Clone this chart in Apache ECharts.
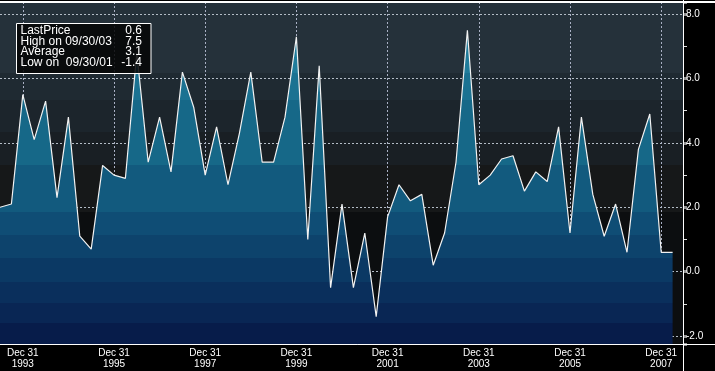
<!DOCTYPE html>
<html>
<head>
<meta charset="utf-8">
<script src="https://cdn.jsdelivr.net/npm/echarts@6/dist/echarts.min.js"></script>
<style>
html,body{margin:0;padding:0;background:#000;}
#chart{width:715px;height:371px;}
</style>
</head>
<body>
<div id="chart"></div>
<script>
// Quarter-end dates (last entry is an empty slot at the right edge of the plot)
const categories = [
  "1993-06-30","1993-09-30","1993-12-31",
  "1994-03-31","1994-06-30","1994-09-30","1994-12-31",
  "1995-03-31","1995-06-30","1995-09-30","1995-12-31",
  "1996-03-31","1996-06-30","1996-09-30","1996-12-31",
  "1997-03-31","1997-06-30","1997-09-30","1997-12-31",
  "1998-03-31","1998-06-30","1998-09-30","1998-12-31",
  "1999-03-31","1999-06-30","1999-09-30","1999-12-31",
  "2000-03-31","2000-06-30","2000-09-30","2000-12-31",
  "2001-03-31","2001-06-30","2001-09-30","2001-12-31",
  "2002-03-31","2002-06-30","2002-09-30","2002-12-31",
  "2003-03-31","2003-06-30","2003-09-30","2003-12-31",
  "2004-03-31","2004-06-30","2004-09-30","2004-12-31",
  "2005-03-31","2005-06-30","2005-09-30","2005-12-31",
  "2006-03-31","2006-06-30","2006-09-30","2006-12-31",
  "2007-03-31","2007-06-30","2007-09-30","2007-12-31",
  "2008-03-31","2008-06-30"
];
const values = [
  2.0, 2.1, 5.5,
  4.1, 5.3, 2.3, 4.8,
  1.1, 0.7, 3.3, 3.0,
  2.9, 6.8, 3.4, 4.8,
  3.1, 6.2, 5.1, 3.0,
  4.5, 2.7, 4.3, 6.2,
  3.4, 3.4, 4.8, 7.3,
  1.0, 6.4, -0.5, 2.1,
  -0.5, 1.2, -1.4, 1.7,
  2.7, 2.2, 2.4, 0.2,
  1.2, 3.4, 7.5, 2.7,
  3.0, 3.5, 3.6, 2.5,
  3.1, 2.8, 4.5, 1.2,
  4.8, 2.4, 1.1, 2.1,
  0.6, 3.8, 4.9, 0.6,
  0.6
];
const yMin = -2.25;
const yMax = 8.38;
const statLabels = ["LastPrice", "High on 09/30/03", "Average", "Low on  09/30/01"];
const statValues = ["0.6", "7.5", "3.1", "-1.4"];

const isDec = v => v.slice(5) === "12-31";
const isLabeled = v => isDec(v) && (+v.slice(0, 4)) % 2 === 1;

const bandBg = (stops) => {
  const out = [];
  for (let i = 0; i < stops.length; i++) {
    const [a, b, c] = stops[i];
    out.push({offset: a, color: c}, {offset: b, color: c});
  }
  return out;
};

const chart = echarts.init(document.getElementById('chart'), null, {renderer: 'canvas'});

const font = "'Liberation Sans', Arial, sans-serif";

const statGraphics = [];
statGraphics.push({
  type: 'rect', shape: {x: 16.5, y: 23.5, width: 134.5, height: 50},
  style: {fill: 'rgba(5,5,5,0.86)', stroke: '#ffffff', lineWidth: 1}, z: 100
});
const rowY = [30.5, 41.3, 51.8, 62.5];
statLabels.forEach((t, i) => {
  statGraphics.push({type: 'text', x: 20.5, y: rowY[i], z: 101,
    style: {text: t, fill: '#ffffff', font: "12px " + font, textVerticalAlign: 'middle'}});
  statGraphics.push({type: 'text', x: 142, y: rowY[i], z: 101,
    style: {text: statValues[i], fill: '#ffffff', font: "12px " + font, textAlign: 'right', textVerticalAlign: 'middle'}});
});

const option = {
  backgroundColor: '#000000',
  animation: false,
  grid: {
    left: 0, right: 31, top: 2, bottom: 27,
    show: true, borderWidth: 0,
    backgroundColor: {
      type: 'linear', x: 0, y: 0, x2: 0, y2: 1,
      colorStops: bandBg([
        [0, 0.2076, '#25313a'],
        [0.2076, 0.2865, '#1f2a32'],
        [0.2865, 0.38, '#1c252c'],
        [0.38, 0.4766, '#191f24'],
        [0.4766, 0.614, '#161819'],
        [0.614, 1, '#0c0e10']
      ])
    }
  },
  xAxis: {
    type: 'category',
    data: categories,
    boundaryGap: false,
    axisLine: {show: false},
    axisTick: {show: true, length: 4, interval: (i, v) => isDec(v), lineStyle: {color: '#ffffff', width: 1}},
    axisLabel: {
      interval: (i, v) => isLabeled(v),
      formatter: v => 'Dec 31\n' + v.slice(0, 4),
      color: '#ffffff', fontSize: 10, lineHeight: 11, margin: 4,
      fontFamily: font
    },
    splitLine: {show: true, interval: (i, v) => isLabeled(v),
      lineStyle: {color: '#a9b0c4', type: [2, 2], width: 1}}
  },
  yAxis: {
    type: 'value',
    position: 'right',
    min: yMin, max: yMax, splitNumber: 5,
    axisLine: {show: false},
    axisTick: {show: true, length: 3, lineStyle: {color: '#8f8f8f', width: 3}},
    minorTick: {show: true, splitNumber: 2, length: 3, lineStyle: {color: '#dddddd', width: 1}},
    axisLabel: {
      color: '#ffffff', fontSize: 10, margin: 2,
      fontFamily: "'Liberation Sans Narrow', 'Liberation Sans', Arial, sans-serif",
      showMinLabel: false, showMaxLabel: false,
      formatter: v => v.toFixed(1)
    },
    splitLine: {show: true, lineStyle: {color: '#b3bcc6', type: [2, 2], width: 1}}
  },
  series: [{
    type: 'line',
    data: values,
    symbol: 'none',
    lineStyle: {color: '#f2f2f2', width: 1.2},
    areaStyle: {
      origin: 'start',
      opacity: 1,
      color: {
        type: 'linear', x: 0, y: 2, x2: 0, y2: 344, global: true,
        colorStops: bandBg([
          [0, 0.2076, '#207c9b'],
          [0.2076, 0.2865, '#1b7292'],
          [0.2865, 0.4766, '#166888'],
          [0.4766, 0.614, '#125a7e'],
          [0.614, 0.68, '#0f4d75'],
          [0.68, 0.75, '#0d436c'],
          [0.75, 0.82, '#0b3964'],
          [0.82, 0.88, '#0a2f5c'],
          [0.88, 0.94, '#092654'],
          [0.94, 1, '#071c4a']
        ])
      }
    },
    z: 3
  }],
  graphic: [
    {type: 'line', shape: {x1: 0, y1: 2, x2: 715, y2: 2}, style: {stroke: '#ffffff', lineWidth: 2}, z: 90},
    {type: 'line', shape: {x1: 0, y1: 344.5, x2: 715, y2: 344.5}, style: {stroke: '#ffffff', lineWidth: 1}, z: 90},
    {type: 'line', shape: {x1: 683.5, y1: 0, x2: 683.5, y2: 371}, style: {stroke: '#ffffff', lineWidth: 1}, z: 90}
  ].concat(statGraphics)
};

chart.setOption(option);
</script>
</body>
</html>
